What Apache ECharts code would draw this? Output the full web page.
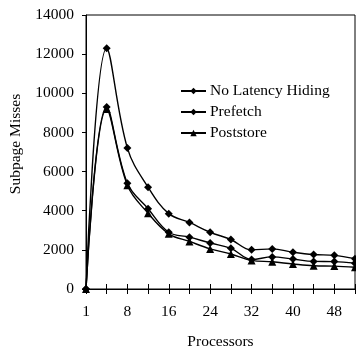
<!DOCTYPE html>
<html>
<head>
<meta charset="utf-8">
<script src="https://cdn.jsdelivr.net/npm/echarts@6/dist/echarts.min.js"></script>
<style>
  html, body { margin: 0; padding: 0; background: #fff; }
  #chart { width: 356px; height: 347px; }
</style>
</head>
<body>
<div id="chart"></div>
<script>
// Processor counts along the x axis
const processors = ['1', '4', '8', '12', '16', '20', '24', '28', '32', '36', '40', '44', '48', '52'];

// Subpage misses per configuration
const noLatencyHiding = [0, 12300, 7200, 5200, 3850, 3400, 2900, 2530, 2000, 2050, 1880, 1760, 1720, 1550];
const prefetch        = [0, 9300, 5400, 4100, 2900, 2650, 2350, 2080, 1510, 1640, 1530, 1410, 1400, 1320];
const poststore       = [0, 9200, 5300, 3870, 2820, 2430, 2050, 1790, 1460, 1390, 1280, 1190, 1170, 1110];

const yTicks = [0, 2000, 4000, 6000, 8000, 10000, 12000, 14000];

const FONT = '"Liberation Serif", "Times New Roman", serif';
const INK = '#000';

function lineSeries(name, data, symbol) {
  return {
    name: name,
    type: 'line',
    data: data,
    smooth: 0.38,
    symbol: symbol,
    symbolSize: 8,
    lineStyle: { color: INK, width: 1.4 },
    itemStyle: { color: INK },
    emphasis: { disabled: true },
    animation: false
  };
}

const chart = echarts.init(document.getElementById('chart'), null, { renderer: 'canvas' });
chart.setOption({
  backgroundColor: '#fff',
  textStyle: { fontFamily: FONT, color: INK },
  grid: {
    left: 86, right: 1, top: 15, bottom: 58,
    outerBoundsMode: 'none',
    containLabel: false,
    show: true, borderColor: INK, borderWidth: 1
  },
  legend: {
    orient: 'vertical',
    left: 180, top: 83,
    padding: 0,
    itemWidth: 25, itemHeight: 8, itemGap: 5,
    textStyle: { fontFamily: FONT, fontSize: 15.5, color: INK, padding: [0, 0, 0, -1] },
    data: ['No Latency Hiding', 'Prefetch', 'Poststore']
  },
  xAxis: [
    {
      type: 'category',
      data: processors,
      boundaryGap: false,
      name: 'Processors',
      nameLocation: 'middle',
      nameGap: 45,
      nameTextStyle: { fontFamily: FONT, fontSize: 15.5, color: INK },
      axisLine: { lineStyle: { color: INK, width: 1 } },
      axisTick: { show: true, interval: 0, length: 5, lineStyle: { color: INK } },
      axisLabel: { interval: 1, margin: 15, fontFamily: FONT, fontSize: 15.5, color: INK },
      splitLine: { show: false }
    },
    {
      // inner half of the crossing tick marks
      type: 'category',
      data: processors,
      boundaryGap: false,
      position: 'bottom',
      axisLine: { show: false },
      axisTick: { show: true, inside: true, interval: 0, length: 5, lineStyle: { color: INK } },
      axisLabel: { show: false },
      splitLine: { show: false }
    }
  ],
  yAxis: {
    type: 'value',
    min: yTicks[0],
    max: yTicks[yTicks.length - 1],
    interval: yTicks[1] - yTicks[0],
    name: 'Subpage Misses',
    nameLocation: 'middle',
    nameGap: 52,
    nameTextStyle: { fontFamily: FONT, fontSize: 15.5, color: INK, padding: [0, 0, 0, 16] },
    axisLine: { show: true, lineStyle: { color: INK, width: 1 } },
    axisTick: { show: true, length: 4, lineStyle: { color: INK } },
    axisLabel: {
      margin: 12, fontFamily: FONT, fontSize: 15.5, color: INK,
      formatter: function (v) { return String(v); }
    },
    splitLine: { show: false }
  },
  series: [
    lineSeries('No Latency Hiding', noLatencyHiding, 'diamond'),
    lineSeries('Prefetch', prefetch, 'diamond'),
    lineSeries('Poststore', poststore, 'triangle')
  ]
});
</script>
</body>
</html>
